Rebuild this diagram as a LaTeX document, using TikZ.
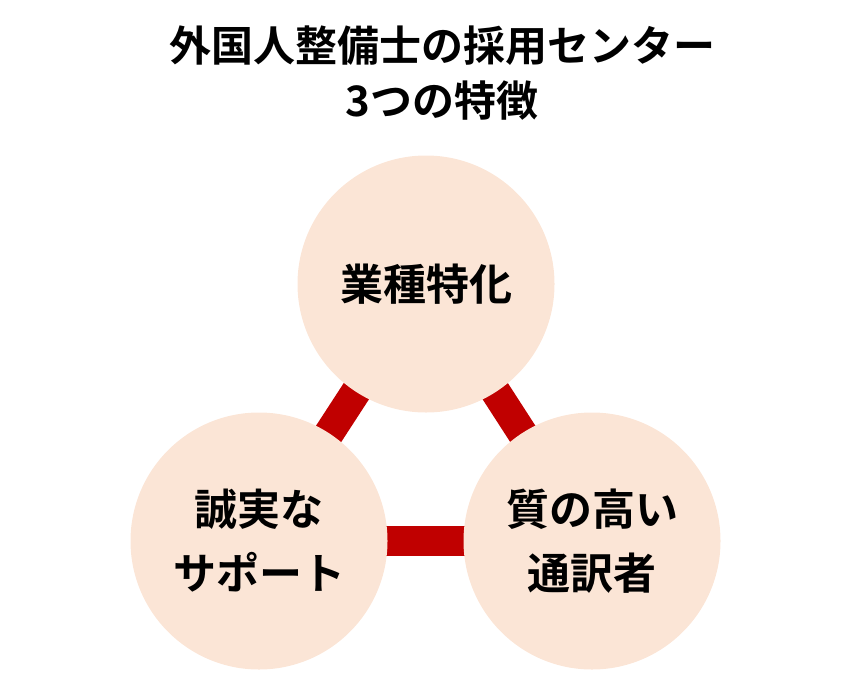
\documentclass[tikz,border=0pt]{standalone}
\usepackage{fontspec}
\setmainfont{Noto Sans CJK JP}[BoldFont={Noto Sans CJK JP Bold}]
\usetikzlibrary{backgrounds}
\definecolor{peach}{HTML}{FBE5D6}
\definecolor{barred}{HTML}{C00000}
\tikzset{
  circ/.style={circle,fill=peach,minimum size=257pt,inner sep=0pt,align=center,font=\bfseries\fontsize{43}{64}\selectfont},
  bar/.style={draw=barred,line width=30pt},
  ttl/.style={align=center,font=\bfseries\fontsize{42}{55}\selectfont}
}
\begin{document}
\begin{tikzpicture}[x=1pt,y=-1pt]
\useasboundingbox (0,0) rectangle (850,680);
\node[ttl] (title) at (442,73) {外国人整備士の採用センター\\3つの特徴};
\node[circ] (top) at (426,284) {業種特化};
\node[circ] (left) at (259,541) {誠実な\\サポート};
\node[circ] (right) at (592,541) {質の高い\\通訳者};
\begin{scope}[on background layer]
\draw[bar] (top.center) -- (left.center);
\draw[bar] (top.center) -- (right.center);
\draw[bar] (left.center) -- (right.center);
\end{scope}
\end{tikzpicture}
\end{document}
